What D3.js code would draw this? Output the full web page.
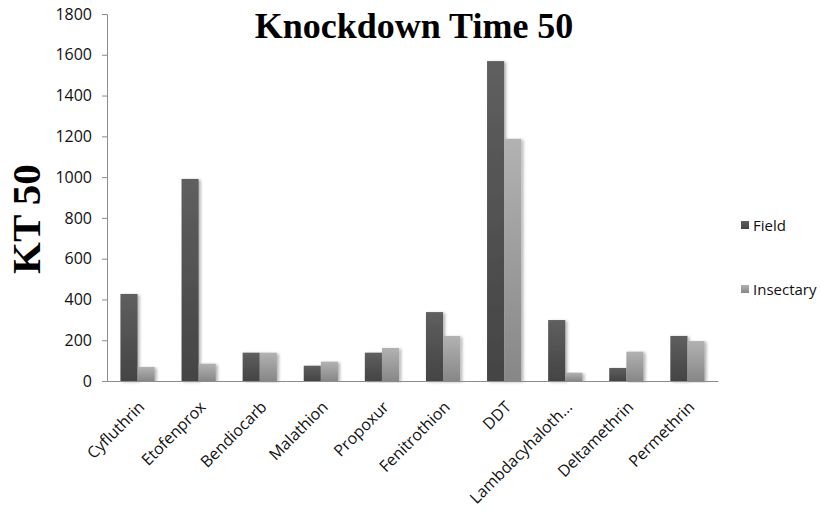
<!DOCTYPE html>
<html>
<head>
<meta charset="utf-8">
<script src="https://cdn.jsdelivr.net/npm/d3@7"></script>
<style>
  body { margin: 0; background: #fff; }
  svg text { font-family: "Open Sans", sans-serif; }
</style>
</head>
<body>
<svg id="chart" width="820" height="514"></svg>
<script>
const categories = ["Cyfluthrin", "Etofenprox", "Bendiocarb", "Malathion", "Propoxur",
    "Fenitrothion", "DDT", "Lambdacyhaloth...", "Deltamethrin", "Permethrin"];
const seriesNames = ["Field", "Insectary"];
const fieldValues = [427, 991, 139, 75, 139, 338, 1569, 299, 64, 221];
const insectaryValues = [69, 85, 139, 95, 162, 221, 1188, 41, 144, 196];
const yTicks = [0, 200, 400, 600, 800, 1000, 1200, 1400, 1600, 1800];

const svg = d3.select("#chart");
const margin = { left: 107, right: 102, top: 14, bottom: 133 };
const width = 820 - margin.left - margin.right;
const height = 514 - margin.top - margin.bottom;

// gradients for the bars, dark one for field, light one for insectary
const defs = svg.append("defs");
const grads = [["#5f5f5f", "#444444"], ["#b2b2b2", "#878787"]];
grads.forEach((c, i) => {
    let g = defs.append("linearGradient").attr("id", "g" + i)
        .attr("x1", 0).attr("y1", 0).attr("x2", 0).attr("y2", 1);
    g.append("stop").attr("offset", "0%").attr("stop-color", c[0]);
    g.append("stop").attr("offset", "100%").attr("stop-color", c[1]);
});
const shadow = defs.append("filter").attr("id", "shadow")
    .attr("x", "-20%").attr("y", "-5%").attr("width", "160%").attr("height", "110%");
shadow.append("feDropShadow").attr("dx", 2).attr("dy", 1).attr("stdDeviation", 1.5)
    .attr("flood-color", "#000").attr("flood-opacity", 0.3);

const plot = svg.append("g").attr("transform", `translate(${margin.left},${margin.top})`);

const x = d3.scaleBand().domain(categories).range([0, width]).paddingInner(0.44).paddingOuter(0.22);
const xSub = d3.scaleBand().domain(seriesNames).range([0, x.bandwidth()]);
const y = d3.scaleLinear().domain([0, 1800]).range([height, 0]);

const rows = categories.map((c, i) => ({ cat: c, vals: [fieldValues[i], insectaryValues[i]] }));

const groups = plot.selectAll("g.grp").data(rows).join("g")
    .attr("class", "grp")
    .attr("transform", d => `translate(${x(d.cat)},0)`);

groups.selectAll("rect").data(d => d.vals.map((v, i) => ({ name: seriesNames[i], v, i })))
    .join("rect")
    .attr("x", d => xSub(d.name))
    .attr("width", xSub.bandwidth())
    .attr("y", d => y(d.v))
    .attr("height", d => height - y(d.v))
    .attr("fill", d => `url(#g${d.i})`)
    .attr("filter", "url(#shadow)");

// y axis
const yAxis = plot.append("g")
    .call(d3.axisLeft(y).tickValues(yTicks).tickFormat(d3.format("d")).tickSize(5).tickPadding(10));
yAxis.select(".domain").attr("stroke", "#8c8c8c");
yAxis.selectAll(".tick line").attr("stroke", "#8c8c8c");
yAxis.selectAll("text").attr("font-size", 16).attr("fill", "#111");

// x axis
const xAxis = plot.append("g").attr("transform", `translate(0,${height})`)
    .call(d3.axisBottom(x).tickSize(0).tickPadding(0).tickSizeOuter(0));
xAxis.select(".domain").attr("stroke", "#8c8c8c");
xAxis.selectAll("text")
    .attr("font-size", 16).attr("fill", "#111")
    .attr("text-anchor", "end")
    .attr("dy", 0)
    .attr("transform", "translate(8,27) rotate(-45)");

// title and y label
svg.append("text").attr("x", 414).attr("y", 38).attr("text-anchor", "middle")
    .style("font-family", "'Liberation Serif', serif").attr("font-weight", "bold")
    .attr("font-size", 36).text("Knockdown Time 50");

svg.append("text").attr("transform", "translate(40,219) rotate(-90)").attr("text-anchor", "middle")
    .style("font-family", "'Liberation Serif', serif").attr("font-weight", "bold")
    .attr("font-size", 41).text("KT 50");

// legend
const legend = svg.append("g").attr("transform", "translate(741,221)");
seriesNames.forEach((n, i) => {
    let row = legend.append("g").attr("transform", `translate(0,${i * 64})`);
    row.append("rect").attr("width", 8).attr("height", 8).attr("fill", `url(#g${i})`);
    row.append("text").attr("x", 12).attr("y", 10).attr("font-size", 15).attr("fill", "#111").text(n);
});
</script>
</body>
</html>
